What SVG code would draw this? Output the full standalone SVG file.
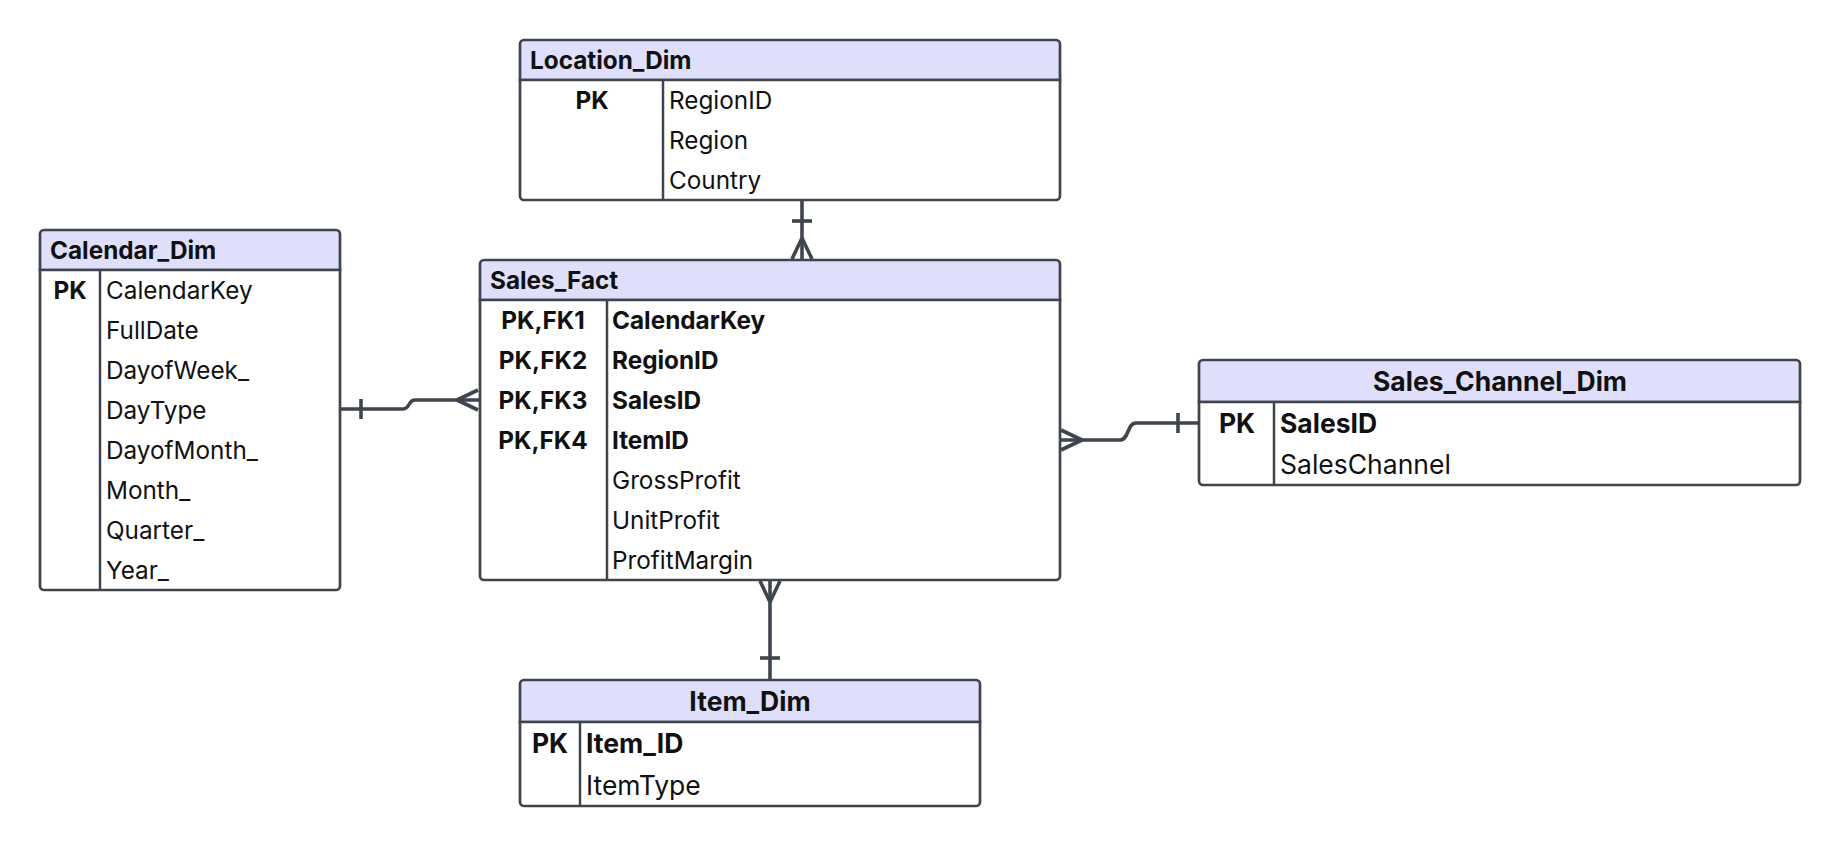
<svg xmlns="http://www.w3.org/2000/svg" width="1840" height="846" viewBox="0 0 1840 846">
<style>
.box{fill:#ffffff;stroke:#3f444d;stroke-width:2.7}
.hdr{fill:#dfdffb;stroke:#3f444d;stroke-width:2.7}
.ln{stroke:#3f444d;stroke-width:2.5;fill:none}
.t{font-family:Inter,"Liberation Sans",sans-serif;font-size:24.3px;fill:#111111}
.b{font-weight:bold}
.k{text-anchor:middle;font-weight:bold}
.c{text-anchor:middle}
.lg{font-size:26.5px}
.conn{stroke:#3f444d;stroke-width:3.6;fill:none;stroke-linecap:butt}
</style>
<g id="connectors">
<path class="conn" d="M802,200 V260"/>
<path class="conn" d="M792,221 H812"/>
<path class="conn" d="M802,238 L792,259 M802,238 L812,259"/>
<path class="conn" d="M770,580 V680"/>
<path class="conn" d="M770,602 L760,581 M770,602 L780,581"/>
<path class="conn" d="M760,658 H780"/>
<path class="conn" d="M340,409 H403 C410,409 408,400 415,400 H480"/>
<path class="conn" d="M361,399 V419"/>
<path class="conn" d="M457,400 L478,390 M457,400 L478,410"/>
<path class="conn" d="M1060,440 H1120 C1129,440 1127,423 1136,423 H1199"/>
<path class="conn" d="M1178,413 V433"/>
<path class="conn" d="M1082,440 L1061,430 M1082,440 L1061,450"/>
</g>
<g id="Location_Dim">
<path class="hdr" d="M520,80 V44 a4,4 0 0 1 4,-4 H1056 a4,4 0 0 1 4,4 V80 Z"/>
<path class="box" d="M520,80 H1060 V196 a4,4 0 0 1 -4,4 H524 a4,4 0 0 1 -4,-4 Z"/>
<line class="ln" x1="663" y1="80" x2="663" y2="200"/>
<text class="t b" x="530" y="69">Location_Dim</text>
<text class="t k" x="592" y="109">PK</text>
<text class="t" x="669" y="109">RegionID</text>
<text class="t" x="669" y="149">Region</text>
<text class="t" x="669" y="189">Country</text>
</g>
<g id="Calendar_Dim">
<path class="hdr" d="M40,270 V234 a4,4 0 0 1 4,-4 H336 a4,4 0 0 1 4,4 V270 Z"/>
<path class="box" d="M40,270 H340 V586 a4,4 0 0 1 -4,4 H44 a4,4 0 0 1 -4,-4 Z"/>
<line class="ln" x1="100" y1="270" x2="100" y2="590"/>
<text class="t b" x="50" y="259">Calendar_Dim</text>
<text class="t k" x="70" y="299">PK</text>
<text class="t" x="106" y="299">CalendarKey</text>
<text class="t" x="106" y="339">FullDate</text>
<text class="t" x="106" y="379">DayofWeek_</text>
<text class="t" x="106" y="419">DayType</text>
<text class="t" x="106" y="459">DayofMonth_</text>
<text class="t" x="106" y="499">Month_</text>
<text class="t" x="106" y="539">Quarter_</text>
<text class="t" x="106" y="579">Year_</text>
</g>
<g id="Sales_Fact">
<path class="hdr" d="M480,300 V264 a4,4 0 0 1 4,-4 H1056 a4,4 0 0 1 4,4 V300 Z"/>
<path class="box" d="M480,300 H1060 V576 a4,4 0 0 1 -4,4 H484 a4,4 0 0 1 -4,-4 Z"/>
<line class="ln" x1="607" y1="300" x2="607" y2="580"/>
<text class="t b" x="490" y="289">Sales_Fact</text>
<text class="t k" x="543" y="329">PK,FK1</text>
<text class="t k" x="543" y="369">PK,FK2</text>
<text class="t k" x="543" y="409">PK,FK3</text>
<text class="t k" x="543" y="449">PK,FK4</text>
<text class="t b" x="612" y="329">CalendarKey</text>
<text class="t b" x="612" y="369">RegionID</text>
<text class="t b" x="612" y="409">SalesID</text>
<text class="t b" x="612" y="449">ItemID</text>
<text class="t" x="612" y="489">GrossProfit</text>
<text class="t" x="612" y="529">UnitProfit</text>
<text class="t" x="612" y="569">ProfitMargin</text>
</g>
<g id="Sales_Channel_Dim">
<path class="hdr" d="M1199,402 V364 a4,4 0 0 1 4,-4 H1796 a4,4 0 0 1 4,4 V402 Z"/>
<path class="box" d="M1199,402 H1800 V481 a4,4 0 0 1 -4,4 H1203 a4,4 0 0 1 -4,-4 Z"/>
<line class="ln" x1="1274" y1="402" x2="1274" y2="485"/>
<text class="t b c lg" x="1500" y="390.5">Sales_Channel_Dim</text>
<text class="t k lg" x="1237" y="432.5">PK</text>
<text class="t b lg" x="1280" y="432.5">SalesID</text>
<text class="t lg" x="1280" y="474">SalesChannel</text>
</g>
<g id="Item_Dim">
<path class="hdr" d="M520,722 V684 a4,4 0 0 1 4,-4 H976 a4,4 0 0 1 4,4 V722 Z"/>
<path class="box" d="M520,722 H980 V802 a4,4 0 0 1 -4,4 H524 a4,4 0 0 1 -4,-4 Z"/>
<line class="ln" x1="580" y1="722" x2="580" y2="806"/>
<text class="t b c lg" x="750" y="710.5">Item_Dim</text>
<text class="t k lg" x="550" y="752.5">PK</text>
<text class="t b lg" x="586" y="752.5">Item_ID</text>
<text class="t lg" x="586" y="794.5">ItemType</text>
</g>
</svg>
